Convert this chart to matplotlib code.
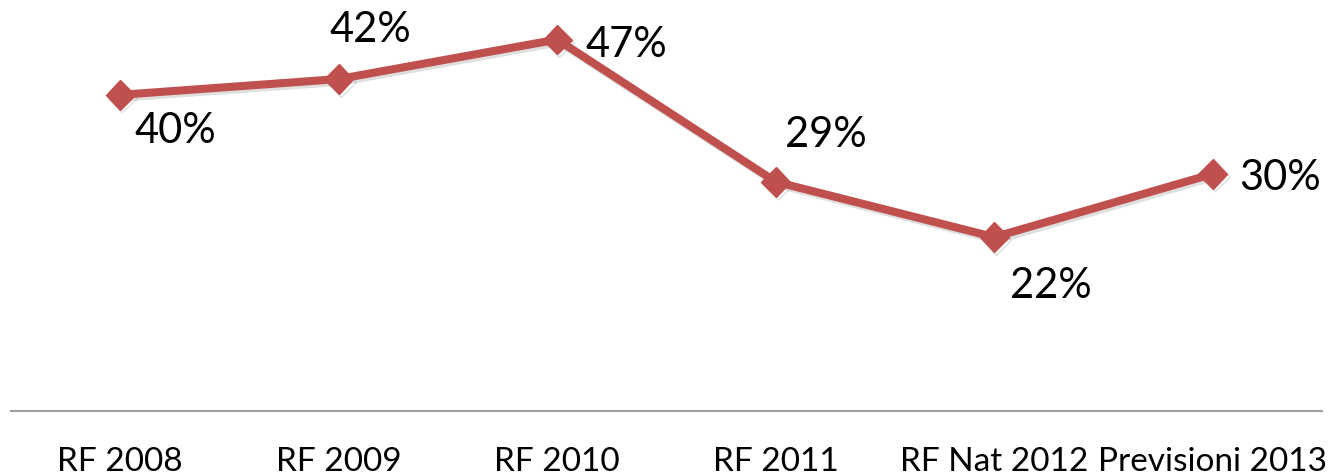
import matplotlib
matplotlib.use("Agg")
import matplotlib.pyplot as plt
import matplotlib.patheffects as pe

categories = ["RF 2008", "RF 2009", "RF 2010", "RF 2011", "RF Nat 2012", "Previsioni 2013"]
values = [40, 42, 47, 29, 22, 30]
labels = ["40%", "42%", "47%", "29%", "22%", "30%"]

# label offsets in pixels (dx, dy)
label_offsets = [(55, -36), (32, 49), (69, -5), (50, 47), (57, -49), (67, -4)]

plt.rcParams['font.family'] = ['Lato', 'DejaVu Sans']

W, H = 1336, 475
fig = plt.figure(figsize=(W / 100, H / 100), dpi=100)
ax = fig.add_axes([11 / W, (H - 411) / H, (1322 - 11) / W, 411 / H])

x = list(range(len(categories)))
ax.plot(x, values, color="#C0504D", lw=5.8, marker="D", markersize=15,
        markerfacecolor="#C0504D", markeredgecolor="#C0504D",
        solid_joinstyle="round", zorder=3,
        path_effects=[pe.SimpleLineShadow(offset=(1.5, -2), shadow_color="gray", alpha=0.25), pe.Normal()])

for xi, v, lab, (dx, dy) in zip(x, values, labels, label_offsets):
    ax.annotate(lab, (xi, v), xytext=(dx, dy), textcoords="offset pixels",
                ha="center", va="center", fontsize=30, color="black")

ax.set_xlim(-0.5, len(categories) - 0.5)
ax.set_ylim(0, 52)
ax.set_xticks(x)
ax.set_xticklabels(categories, fontsize=24)
ax.tick_params(axis="x", length=0, pad=26)
ax.set_yticks([])
for s in ["top", "left", "right"]:
    ax.spines[s].set_visible(False)
ax.spines["bottom"].set_color("#A0A0A0")
ax.spines["bottom"].set_linewidth(1.5)

fig.savefig("out.png", dpi=100)
